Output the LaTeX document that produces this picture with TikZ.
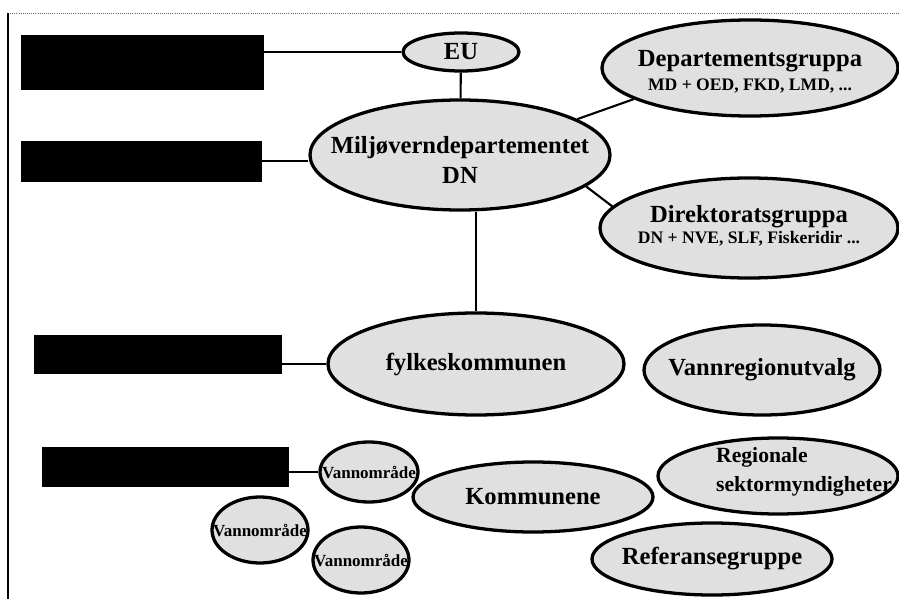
\documentclass[tikz,border=0pt]{standalone}
\usepackage{fontspec}
\setmainfont{Liberation Serif}
\usetikzlibrary{shapes.geometric}
\newcommand{\smalltext}{\fontsize{15}{17}\selectfont}

\begin{document}
\begin{tikzpicture}[x=0.03cm,y=-0.03cm,
  blob/.style={draw,ellipse,line width=2.8pt,fill=black!12,inner sep=0pt},
  bar/.style={draw,rectangle,fill=black,inner sep=0pt},
  txt/.style={font=\bfseries\fontsize{21}{22}\selectfont,align=center,inner sep=0pt}]
\useasboundingbox (0,0) rectangle (899,599);
% frame
\draw[black!60,densely dotted,line width=0.8pt] (8,13) -- (899,13);
\draw[line width=2.5pt] (8,13) -- (8,599);
% black boxes on the left
\node[bar, minimum width=7.26cm, minimum height=1.62cm] (box1) at (142,62) {};
\node[bar, minimum width=7.2cm, minimum height=1.2cm] (box2) at (141,161) {};
\node[bar, minimum width=7.41cm, minimum height=1.14cm] (box3) at (158,354) {};
\node[bar, minimum width=7.38cm, minimum height=1.17cm] (box4) at (165,467) {};
% ellipses
\node[blob, minimum width=3.48cm, minimum height=1.14cm] (eu) at (461,52) {};
\node[blob, minimum width=9cm, minimum height=3.3cm] (milj) at (460,155) {};
\node[blob, minimum width=8.88cm, minimum height=2.88cm] (dep) at (750,68) {};
\node[blob, minimum width=8.94cm, minimum height=3cm] (dir) at (749,228) {};
\node[blob, minimum width=8.88cm, minimum height=3.06cm] (fylke) at (476,364) {};
\node[blob, minimum width=7.08cm, minimum height=2.7cm] (vru) at (762,370) {};
\node[blob, minimum width=2.94cm, minimum height=1.8cm] (vo1) at (369,472) {};
\node[blob, minimum width=2.88cm, minimum height=1.98cm] (vo2) at (260,530) {};
\node[blob, minimum width=2.88cm, minimum height=1.98cm] (vo3) at (361,560) {};
\node[blob, minimum width=7.2cm, minimum height=2.1cm] (kom) at (533,497) {};
\node[blob, minimum width=7.2cm, minimum height=2.28cm] (reg) at (778,476) {};
\node[blob, minimum width=7.2cm, minimum height=2.16cm] (ref) at (712,559) {};
% texts
\node[txt] (eutxt) at (eu) {EU};
\node[txt] (milijtxt) at (460,160) {Miljøverndepartementet\\[4pt]DN};
\node[txt] (deptxt) at (750,72) {Departementsgruppa\\[-2pt]{\smalltext MD + OED, FKD, LMD, ...}};
\node[txt] (dirtxt) at (749,226) {Direktoratsgruppa\\[-4pt]{\smalltext DN + NVE, SLF, Fiskeridir ...}};
\node[txt] (fylketxt) at (fylke) {fylkeskommunen};
\node[txt] (vrutxt) at (vru) {Vannregionutvalg};
\node[txt,font=\bfseries\fontsize{14.5}{16}\selectfont] (vo1txt) at (vo1) {Vannområde};
\node[txt,font=\bfseries\fontsize{14.5}{16}\selectfont] (vo2txt) at (vo2) {Vannområde};
\node[txt,font=\bfseries\fontsize{14.5}{16}\selectfont] (vo3txt) at (vo3) {Vannområde};
\node[txt] (komtxt) at (kom) {Kommunene};
\node[txt,align=left,font=\bfseries\fontsize{18.5}{22}\selectfont] (regtxt) at (804,472) {Regionale\\[3pt]sektormyndigheter};
\node[txt] (reftxt) at (ref) {Referansegruppe};
% connectors
\path[draw,line width=1.8pt] (eu.west) -- (eu.west -| box1.east);
\path[draw,line width=1.8pt] (box2.east) -- (box2.east -| milj.west);
\path[draw,line width=1.8pt] (fylke.west) -- (fylke.west -| box3.east);
\path[draw,line width=1.8pt] (vo1.west) -- (vo1.west -| box4.east);
\path[draw,line width=1.8pt] (eu) -- (milj);
\path[draw,line width=1.8pt] (milj.17) -- (dep.195);
\path[draw,line width=1.8pt] (milj.-14) -- (dir.171);
\path[draw,line width=1.8pt] (fylke.north) -- (fylke.north |- milj.south);
\end{tikzpicture}
\end{document}
